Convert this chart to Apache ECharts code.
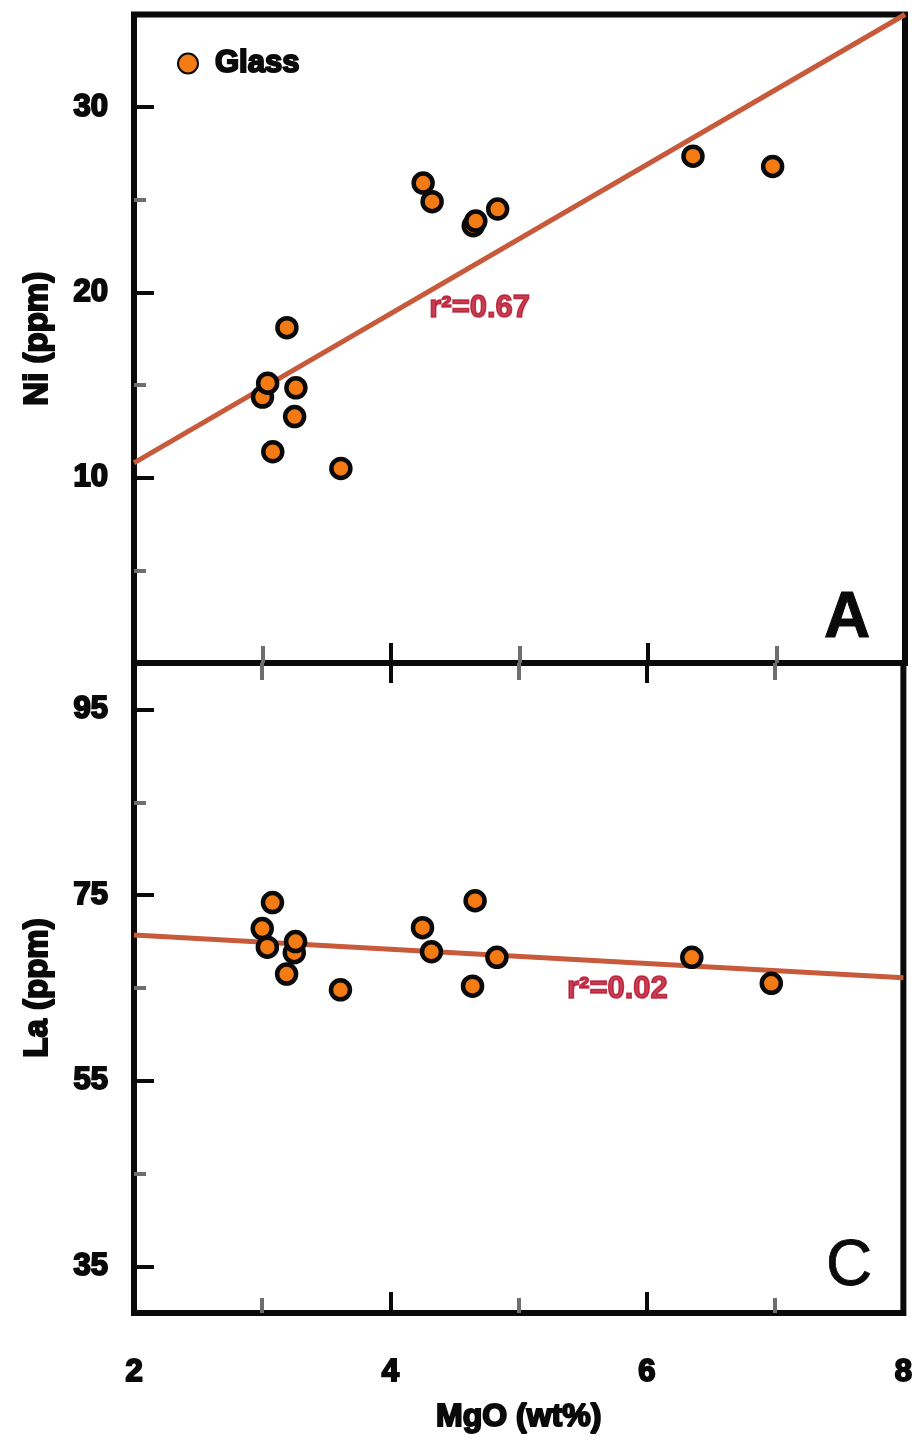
<!DOCTYPE html>
<html>
<head>
<meta charset="utf-8">
<script src="https://cdn.jsdelivr.net/npm/echarts@6/dist/echarts.min.js"></script>
<style>
  html, body { margin: 0; padding: 0; background: #ffffff; }
  #chart { width: 916px; height: 1442px; }
</style>
</head>
<body>
<div id="chart"></div>
<script>
// Glass analyses: MgO (wt%) against Ni and La (ppm)
const mgo = [3.00, 3.04, 3.08, 3.19, 3.25, 3.26, 3.61, 4.25, 4.32, 4.64, 4.66, 4.83, 6.35, 6.97];
const ni  = [14.35, 15.1, 11.4, 18.1, 13.3, 14.85, 10.5, 25.9, 24.9, 23.6, 23.85, 24.5, 27.35, 26.8];
const la  = [71.4, 69.4, 74.2, 66.5, 68.8, 70.0, 64.8, 71.5, 68.9, 65.2, 74.4, 68.3, 68.3, 65.5];

// Least-squares lines (end points across the MgO range)
const fitX   = [2, 8];
const niFitY = [10.8, 35.0];
const laFitY = [70.7, 66.1];

// Correlation annotations and where they sit (data coordinates)
const niR2Text = 'r\u00B2=0.67';
const niR2At   = [4.69, 19.15];
const laR2Text = 'r\u00B2=0.02';
const laR2At   = [5.77, 64.8];

// Axis ticks
const mgoMajor = [2, 4, 6, 8];
const mgoMinor = [3, 5, 7];
const niMajor  = [10, 20, 30];
const niMinor  = [5, 15, 25];
const laMajor  = [35, 55, 75, 95];
const laMinor  = [45, 65, 85];

const seriesName = 'Glass';
const FONT = '"Liberation Sans", Arial, Helvetica, sans-serif';
const BLACK = '#0a0a0a';
const GREY = '#6e6e6e';
const ORANGE = '#f47a14';
const FIT = '#c85a3c';
const RED = '#b8102a';

// heavy type used for all axis text
const heavy = (size, color) => ({
  fontFamily: FONT, fontSize: size, fontWeight: 'bold', color,
  textBorderColor: color, textBorderWidth: 2
});

const zip = (xs, ys) => xs.map((x, i) => [x, ys[i]]);

function xAxisDef(gridIndex, position, ticks, color, len, labels) {
  return {
    type: 'value', gridIndex, position, min: 2, max: 8,
    axisLine: { show: false, onZero: false },
    splitLine: { show: false },
    axisTick: { show: true, inside: true, length: len, customValues: ticks,
                lineStyle: { color, width: 4 } },
    axisLabel: labels ? Object.assign({ show: true, customValues: labels, margin: 44 },
                                      heavy(31, BLACK))
                      : { show: false },
    name: labels ? 'MgO (wt%)' : '',
    nameLocation: 'middle', nameGap: 88,
    nameTextStyle: heavy(32, BLACK)
  };
}

function yAxisDef(gridIndex, min, max, ticks, color, len, labels, name) {
  return {
    type: 'value', gridIndex, position: 'left', min, max,
    axisLine: { show: false, onZero: false },
    splitLine: { show: false },
    axisTick: { show: true, inside: true, length: len, customValues: ticks,
                lineStyle: { color, width: 4 } },
    axisLabel: labels ? Object.assign({ show: true, customValues: labels, margin: 26 },
                                      heavy(31, BLACK))
                      : { show: false },
    name: name || '',
    nameLocation: 'middle', nameGap: 80, nameRotate: 90,
    nameTextStyle: heavy(33, BLACK)
  };
}

const pointStyle = {
  symbol: 'circle', symbolSize: 19,
  itemStyle: { color: ORANGE, borderColor: BLACK, borderWidth: 4.5, opacity: 1 }
};

const option = {
  backgroundColor: '#ffffff',
  animation: false,
  grid: [
    { left: 134, right: 11, top: 14.5, height: 648.5, show: true,
      borderColor: BLACK, borderWidth: 6, backgroundColor: 'transparent' },
    { left: 134, right: 11, top: 663, height: 650, show: true,
      borderColor: BLACK, borderWidth: 6, backgroundColor: 'transparent' }
  ],
  xAxis: [
    xAxisDef(0, 'bottom', mgoMajor, BLACK, 20, null),
    xAxisDef(0, 'bottom', mgoMinor, GREY, 17, null),
    xAxisDef(1, 'top', mgoMajor, BLACK, 20, null),
    xAxisDef(1, 'top', mgoMinor, GREY, 17, null),
    xAxisDef(1, 'bottom', mgoMajor, BLACK, 21, mgoMajor),
    xAxisDef(1, 'bottom', mgoMinor, GREY, 15, null)
  ],
  yAxis: [
    yAxisDef(0, 0, 35, niMajor, BLACK, 20, niMajor, 'Ni (ppm)'),
    yAxisDef(0, 0, 35, niMinor, GREY, 12, null, ''),
    yAxisDef(1, 30, 100, laMajor, BLACK, 20, laMajor, 'La (ppm)'),
    yAxisDef(1, 30, 100, laMinor, GREY, 12, null, '')
  ],
  legend: {
    data: [seriesName],
    left: 172, top: 42, itemWidth: 20, itemHeight: 20,
    icon: 'circle',
    textStyle: Object.assign(heavy(31, BLACK), { padding: [0, 0, 0, 12] })
  },
  series: [
    { type: 'line', xAxisIndex: 0, yAxisIndex: 0, data: zip(fitX, niFitY),
      symbol: 'none', lineStyle: { color: FIT, width: 5 }, clip: true, silent: true, z: 2 },
    { type: 'line', xAxisIndex: 4, yAxisIndex: 2, data: zip(fitX, laFitY),
      symbol: 'none', lineStyle: { color: FIT, width: 5 }, clip: true, silent: true, z: 2 },
    Object.assign({ name: seriesName, type: 'scatter', xAxisIndex: 0, yAxisIndex: 0,
      data: zip(mgo, ni), z: 5 }, pointStyle),
    Object.assign({ name: seriesName, type: 'scatter', xAxisIndex: 4, yAxisIndex: 2,
      data: zip(mgo, la), z: 5 }, pointStyle),
    { type: 'scatter', xAxisIndex: 0, yAxisIndex: 0, data: [niR2At], symbolSize: 0,
      silent: true, z: 6,
      label: Object.assign({ show: true, position: 'inside', formatter: niR2Text },
                           heavy(31, RED), { textBorderWidth: 1.5 }) },
    { type: 'scatter', xAxisIndex: 4, yAxisIndex: 2, data: [laR2At], symbolSize: 0,
      silent: true, z: 6,
      label: Object.assign({ show: true, position: 'inside', formatter: laR2Text },
                           heavy(31, RED), { textBorderWidth: 1.5 }) }
  ],
  graphic: [
    { type: 'text', x: 847, y: 619, z: 10,
      style: { text: 'A', fontFamily: FONT, fontSize: 64, fontWeight: 'bold',
               fill: BLACK, stroke: BLACK, lineWidth: 1,
               align: 'center', verticalAlign: 'middle' } },
    { type: 'text', x: 849, y: 1267, z: 10,
      style: { text: 'C', fontFamily: FONT, fontSize: 64, fontWeight: 'normal',
               fill: BLACK, stroke: BLACK, lineWidth: 0.8,
               align: 'center', verticalAlign: 'middle' } }
  ]
};

const chart = echarts.init(document.getElementById('chart'), null, { renderer: 'canvas' });
chart.setOption(option);
</script>
</body>
</html>
